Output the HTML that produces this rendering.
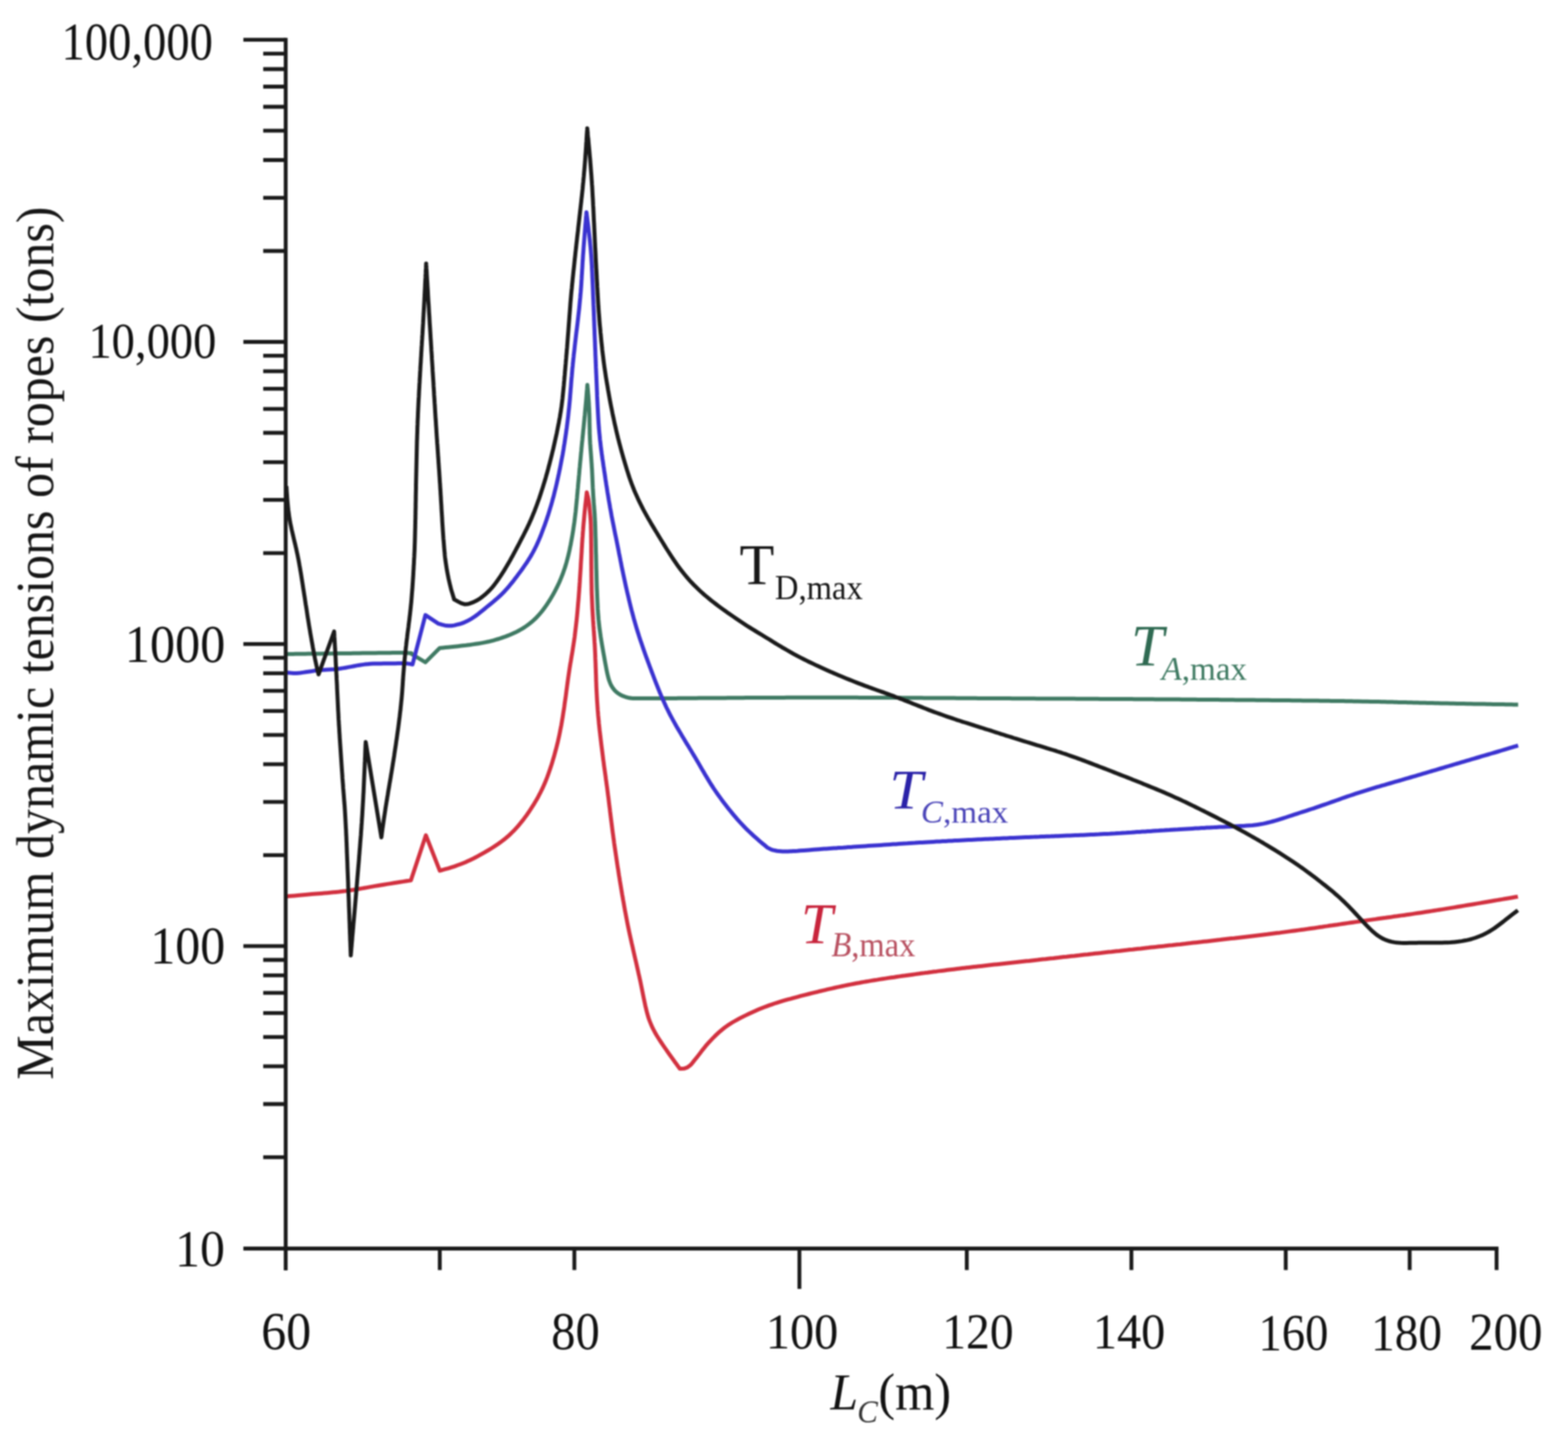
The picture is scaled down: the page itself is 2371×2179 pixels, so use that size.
<!DOCTYPE html>
<html><head><meta charset="utf-8"><title>Maximum dynamic tensions of ropes</title>
<style>html,body{margin:0;padding:0;background:#fff;} svg{display:block;filter:blur(1px);}</style></head>
<body>
<svg width="2371" height="2179" viewBox="0 0 2371 2179">
<rect width="2371" height="2179" fill="#fff"/>
<g>
<g fill="none" stroke-linejoin="round" stroke-linecap="butt">
<path d="M433.0,989.0 L435.1,989.0 L437.6,988.9 L440.3,988.9 L443.3,988.9 L446.5,988.8 L450.0,988.8 L453.7,988.8 L457.7,988.7 L461.8,988.7 L466.2,988.6 L470.9,988.6 L475.7,988.5 L480.7,988.4 L485.6,988.4 L490.6,988.3 L495.5,988.3 L500.4,988.2 L505.1,988.2 L509.6,988.1 L514.0,988.1 L518.1,988.0 L522.1,988.0 L526.0,987.9 L530.1,987.9 L534.4,987.8 L538.9,987.8 L543.5,987.7 L548.3,987.6 L553.2,987.6 L558.1,987.5 L563.0,987.4 L567.9,987.4 L572.7,987.3 L577.4,987.3 L581.9,987.2 L586.1,987.2 L589.9,987.2 L593.4,987.1 L596.6,987.1 L599.8,987.1 L602.6,987.1 L605.2,987.1 L607.6,987.1 L609.8,987.1 L622.0,987.8 L621.5,988.3 L621.6,988.5 L643.3,1001.5 L664.9,979.9 L667.2,979.7 L670.2,979.4 L673.7,979.1 L677.7,978.7 L682.3,978.3 L687.3,977.8 L692.6,977.2 L697.5,976.6 L702.3,976.1 L706.8,975.5 L710.9,975.0 L715.0,974.4 L718.9,973.8 L722.9,973.2 L726.7,972.6 L730.6,971.9 L734.5,971.1 L738.4,970.3 L742.3,969.3 L746.3,968.3 L750.2,967.2 L754.3,966.0 L758.4,964.6 L762.6,963.2 L766.8,961.6 L770.9,960.0 L774.9,958.3 L778.7,956.6 L782.2,954.8 L785.6,953.0 L788.8,951.2 L793.0,948.6 L796.9,945.9 L800.6,943.1 L804.0,940.4 L807.0,937.8 L809.7,935.3 L812.0,932.9 L814.9,929.8 L817.4,926.9 L819.6,924.3 L822.7,920.1 L824.6,917.5 L826.7,914.5 L828.9,911.2 L831.3,907.5 L833.7,903.4 L836.2,899.2 L838.6,894.9 L840.8,890.6 L842.4,887.5 L843.9,884.4 L845.4,881.2 L846.8,878.0 L848.2,874.7 L849.6,871.2 L851.1,867.4 L852.5,863.3 L854.0,859.0 L855.4,854.5 L856.6,850.5 L857.5,847.0 L858.5,843.4 L859.4,839.7 L860.3,835.9 L861.2,831.9 L862.0,827.8 L862.9,823.6 L863.7,819.2 L864.5,814.9 L865.3,810.5 L866.0,806.2 L866.7,801.9 L867.3,797.8 L867.9,793.7 L868.5,789.7 L869.0,785.6 L869.5,781.5 L870.0,777.4 L870.5,773.3 L870.9,769.1 L871.3,765.0 L871.7,760.9 L872.1,756.8 L872.5,752.8 L872.8,748.8 L873.2,744.9 L873.5,741.0 L873.9,737.2 L874.2,733.1 L874.6,728.9 L875.0,724.9 L875.3,721.0 L875.7,717.3 L876.0,713.5 L876.3,709.8 L876.7,706.1 L877.0,702.3 L877.4,698.3 L877.8,694.1 L878.2,689.8 L878.6,685.3 L879.0,681.6 L879.3,677.7 L879.7,673.7 L880.1,669.5 L880.6,665.1 L881.0,660.7 L881.5,656.1 L881.9,651.5 L882.4,647.0 L882.8,642.7 L883.2,638.5 L883.6,634.6 L883.9,630.9 L884.3,627.3 L884.6,623.9 L884.9,620.5 L885.4,615.1 L885.9,609.7 L886.4,604.2 L886.8,599.2 L887.1,595.1 L887.4,591.5 L887.7,588.3 L887.9,585.5 L888.1,583.1 L888.2,582.1 L888.4,584.4 L888.7,587.2 L889.0,590.6 L889.3,594.5 L889.7,598.8 L890.0,603.7 L890.4,608.9 L890.6,613.6 L890.9,618.2 L891.0,622.3 L891.2,626.2 L891.3,630.1 L891.4,634.1 L891.4,638.2 L891.5,642.4 L891.6,646.6 L891.7,650.7 L891.7,654.8 L891.9,658.8 L892.0,662.6 L892.2,666.6 L892.4,670.7 L892.7,674.6 L892.9,678.3 L893.2,682.0 L893.5,685.8 L893.8,689.8 L894.1,694.0 L894.4,698.5 L894.7,702.7 L894.9,706.4 L895.2,710.4 L895.4,714.6 L895.6,719.1 L895.8,723.7 L896.0,728.4 L896.2,733.1 L896.4,737.7 L896.7,742.1 L896.9,746.0 L897.1,749.6 L897.3,752.7 L897.6,756.3 L897.8,759.3 L898.0,761.3 L898.1,763.0 L898.3,765.4 L898.6,769.7 L899.2,777.2 L899.5,783.8 L899.7,786.7 L899.8,789.8 L900.0,792.9 L900.1,796.1 L900.2,799.5 L900.3,803.1 L900.4,807.0 L900.5,811.2 L900.7,815.6 L900.8,820.3 L900.9,825.1 L901.0,829.9 L901.1,834.8 L901.3,839.8 L901.4,844.7 L901.5,849.7 L901.6,854.6 L901.7,859.4 L901.9,864.2 L902.0,868.8 L902.1,873.2 L902.2,877.4 L902.3,881.3 L902.4,884.9 L902.5,888.2 L902.6,891.5 L902.8,894.6 L902.9,897.7 L903.1,902.8 L903.4,909.7 L903.7,915.8 L903.9,920.9 L904.2,925.0 L904.4,928.4 L904.7,931.4 L904.9,934.1 L905.1,936.7 L905.4,939.5 L905.7,942.4 L906.1,945.8 L906.5,949.7 L907.1,953.8 L907.7,958.1 L908.3,962.5 L909.0,966.9 L909.7,971.3 L910.4,975.5 L911.1,979.6 L911.8,983.6 L912.5,987.5 L913.2,991.3 L913.9,995.1 L914.6,999.2 L915.5,1004.0 L916.4,1008.8 L917.3,1013.7 L918.3,1018.3 L919.3,1022.6 L920.3,1026.5 L921.5,1030.0 L922.7,1033.1 L923.9,1035.9 L926.5,1040.2 L929.4,1043.9 L932.0,1046.4 L935.2,1048.8 L937.9,1050.5 L941.1,1052.1 L945.7,1053.8 L949.5,1054.9 L951.0,1055.2 L952.1,1055.4 L953.1,1055.5 L954.2,1055.7 L955.3,1055.8 L956.8,1055.9 L958.8,1056.0 L961.6,1056.1 L966.1,1056.1 L973.7,1056.1 L985.0,1056.1 L997.7,1056.0 L1005.1,1056.0 L1007.7,1056.0 L1010.2,1055.9 L1012.7,1055.9 L1015.1,1055.9 L1017.7,1055.9 L1020.2,1055.9 L1022.8,1055.9 L1025.4,1055.8 L1028.1,1055.8 L1030.9,1055.8 L1033.8,1055.8 L1036.8,1055.8 L1039.9,1055.8 L1043.0,1055.7 L1046.3,1055.7 L1049.6,1055.7 L1053.1,1055.7 L1056.6,1055.6 L1060.3,1055.6 L1064.0,1055.6 L1067.8,1055.6 L1071.7,1055.5 L1075.6,1055.5 L1079.6,1055.5 L1083.7,1055.4 L1087.9,1055.4 L1092.1,1055.4 L1096.4,1055.4 L1100.8,1055.3 L1105.2,1055.3 L1109.7,1055.3 L1114.3,1055.2 L1118.9,1055.2 L1123.5,1055.2 L1128.1,1055.1 L1132.8,1055.1 L1137.5,1055.1 L1142.2,1055.1 L1147.0,1055.0 L1151.7,1055.0 L1156.5,1055.0 L1161.3,1055.0 L1166.1,1054.9 L1170.8,1054.9 L1175.6,1054.9 L1180.4,1054.9 L1185.2,1054.9 L1190.0,1054.8 L1194.7,1054.8 L1199.4,1054.8 L1204.1,1054.8 L1208.8,1054.8 L1213.4,1054.8 L1218.0,1054.8 L1222.5,1054.8 L1227.0,1054.8 L1231.4,1054.8 L1235.7,1054.8 L1240.0,1054.8 L1244.0,1054.8 L1247.6,1054.8 L1251.2,1054.8 L1254.9,1054.8 L1258.5,1054.8 L1262.2,1054.8 L1265.8,1054.8 L1269.5,1054.8 L1273.2,1054.8 L1276.9,1054.8 L1280.6,1054.8 L1284.4,1054.8 L1288.2,1054.8 L1291.9,1054.8 L1295.8,1054.8 L1299.6,1054.9 L1303.5,1054.9 L1307.4,1054.9 L1311.3,1054.9 L1315.3,1054.9 L1319.3,1054.9 L1323.3,1055.0 L1327.3,1055.0 L1331.4,1055.0 L1335.4,1055.0 L1339.5,1055.0 L1343.6,1055.1 L1347.7,1055.1 L1351.8,1055.1 L1355.9,1055.1 L1360.1,1055.1 L1364.2,1055.2 L1368.3,1055.2 L1372.5,1055.2 L1376.6,1055.2 L1380.8,1055.3 L1385.0,1055.3 L1389.1,1055.3 L1393.3,1055.3 L1397.4,1055.4 L1401.6,1055.4 L1405.7,1055.4 L1409.9,1055.4 L1414.0,1055.5 L1418.2,1055.5 L1422.3,1055.5 L1426.5,1055.5 L1430.6,1055.6 L1434.7,1055.6 L1438.8,1055.6 L1442.9,1055.6 L1447.0,1055.7 L1451.1,1055.7 L1455.1,1055.7 L1459.2,1055.7 L1463.2,1055.8 L1467.2,1055.8 L1471.2,1055.8 L1475.2,1055.8 L1479.2,1055.9 L1483.1,1055.9 L1487.1,1055.9 L1491.0,1055.9 L1495.0,1056.0 L1498.9,1056.0 L1502.8,1056.0 L1506.7,1056.0 L1510.6,1056.0 L1514.5,1056.1 L1518.4,1056.1 L1522.5,1056.1 L1526.6,1056.1 L1530.8,1056.2 L1534.9,1056.2 L1539.1,1056.2 L1543.2,1056.2 L1547.3,1056.2 L1551.4,1056.3 L1555.6,1056.3 L1559.7,1056.3 L1563.8,1056.3 L1567.9,1056.4 L1572.0,1056.4 L1576.0,1056.4 L1580.1,1056.4 L1584.2,1056.4 L1588.2,1056.5 L1592.2,1056.5 L1596.3,1056.5 L1600.3,1056.5 L1604.3,1056.5 L1608.3,1056.6 L1612.3,1056.6 L1616.3,1056.6 L1620.3,1056.6 L1624.2,1056.6 L1628.2,1056.7 L1632.2,1056.7 L1636.1,1056.7 L1640.1,1056.7 L1644.1,1056.7 L1648.0,1056.8 L1652.0,1056.8 L1655.9,1056.8 L1659.9,1056.8 L1663.8,1056.9 L1667.8,1056.9 L1671.7,1056.9 L1675.7,1056.9 L1679.6,1056.9 L1683.6,1057.0 L1687.5,1057.0 L1691.5,1057.0 L1695.4,1057.0 L1699.4,1057.1 L1703.3,1057.1 L1707.3,1057.1 L1711.3,1057.1 L1715.2,1057.2 L1719.2,1057.2 L1723.2,1057.2 L1727.1,1057.2 L1731.1,1057.3 L1735.1,1057.3 L1739.1,1057.3 L1743.1,1057.3 L1747.0,1057.4 L1751.0,1057.4 L1755.0,1057.4 L1759.0,1057.5 L1763.0,1057.5 L1767.0,1057.5 L1771.0,1057.5 L1775.0,1057.6 L1779.0,1057.6 L1783.0,1057.6 L1786.9,1057.7 L1790.9,1057.7 L1795.0,1057.7 L1799.1,1057.8 L1803.2,1057.8 L1807.3,1057.8 L1811.5,1057.9 L1815.7,1057.9 L1820.0,1057.9 L1824.3,1058.0 L1828.6,1058.0 L1833.0,1058.0 L1837.4,1058.1 L1841.8,1058.1 L1846.2,1058.2 L1850.7,1058.2 L1855.2,1058.2 L1859.6,1058.3 L1864.2,1058.3 L1868.7,1058.4 L1873.2,1058.4 L1877.7,1058.4 L1882.3,1058.5 L1886.8,1058.5 L1891.4,1058.6 L1895.9,1058.6 L1900.5,1058.7 L1905.0,1058.7 L1909.5,1058.7 L1914.0,1058.8 L1918.5,1058.8 L1923.0,1058.9 L1927.5,1058.9 L1931.9,1059.0 L1936.4,1059.0 L1940.7,1059.1 L1945.1,1059.1 L1949.4,1059.1 L1953.7,1059.2 L1957.9,1059.2 L1962.0,1059.3 L1966.1,1059.3 L1970.2,1059.4 L1974.1,1059.4 L1978.0,1059.5 L1981.8,1059.5 L1985.5,1059.5 L1989.2,1059.6 L1992.8,1059.6 L1996.3,1059.7 L1999.7,1059.7 L2003.1,1059.8 L2006.4,1059.8 L2009.7,1059.8 L2012.9,1059.9 L2016.1,1059.9 L2019.2,1060.0 L2022.4,1060.0 L2025.5,1060.1 L2028.6,1060.1 L2031.6,1060.1 L2034.7,1060.2 L2037.8,1060.2 L2040.8,1060.3 L2043.8,1060.3 L2046.8,1060.4 L2053.9,1060.5 L2060.7,1060.7 L2067.3,1060.8 L2073.4,1060.9 L2079.1,1061.0 L2084.4,1061.1 L2089.3,1061.2 L2093.8,1061.3 L2097.9,1061.4 L2101.8,1061.5 L2105.4,1061.6 L2108.7,1061.7 L2111.9,1061.8 L2114.9,1061.9 L2117.8,1061.9 L2120.6,1062.0 L2123.3,1062.1 L2126.0,1062.1 L2128.8,1062.2 L2131.5,1062.3 L2134.4,1062.3 L2137.3,1062.4 L2140.4,1062.5 L2143.6,1062.6 L2147.0,1062.7 L2150.6,1062.7 L2154.6,1062.8 L2158.4,1062.9 L2162.1,1063.0 L2166.0,1063.1 L2170.1,1063.2 L2174.4,1063.3 L2178.9,1063.4 L2183.5,1063.5 L2188.3,1063.6 L2193.2,1063.7 L2198.1,1063.8 L2203.1,1063.9 L2208.1,1064.0 L2213.1,1064.1 L2218.5,1064.2 L2223.9,1064.3 L2229.3,1064.4 L2234.5,1064.5 L2239.5,1064.5 L2244.3,1064.6 L2248.9,1064.7 L2253.4,1064.8 L2257.7,1064.9 L2261.8,1064.9 L2265.7,1065.0 L2269.5,1065.1 L2273.2,1065.1 L2276.6,1065.2 L2279.9,1065.2 L2283.0,1065.3 L2285.9,1065.3 L2288.6,1065.4 L2291.2,1065.4 L2293.5,1065.5 L2295.6,1065.5" stroke="#3f7a63" stroke-width="6.0" />
<path d="M433.0,1355.5 L435.3,1355.3 L438.2,1355.0 L441.7,1354.7 L445.6,1354.4 L450.1,1354.0 L455.6,1353.5 L461.3,1353.0 L466.7,1352.5 L471.1,1352.1 L474.6,1351.8 L478.3,1351.5 L482.1,1351.2 L486.1,1350.9 L490.4,1350.5 L494.8,1350.2 L499.3,1349.8 L503.8,1349.3 L508.2,1348.9 L512.5,1348.5 L516.6,1348.0 L520.5,1347.6 L524.2,1347.1 L528.7,1346.5 L532.8,1345.8 L536.7,1345.2 L540.4,1344.6 L543.9,1344.0 L547.5,1343.4 L551.1,1342.8 L554.8,1342.1 L558.7,1341.4 L562.9,1340.6 L567.0,1339.9 L571.1,1339.2 L575.5,1338.5 L580.3,1337.7 L585.3,1336.9 L590.4,1336.1 L595.4,1335.3 L600.4,1334.5 L605.0,1333.8 L609.2,1333.1 L612.9,1332.5 L616.2,1332.0 L619.0,1331.6 L621.3,1331.2 L644.0,1263.0 L665.0,1316.6 L667.3,1316.0 L670.2,1315.2 L673.7,1314.2 L677.8,1313.1 L682.4,1311.7 L687.3,1310.1 L692.1,1308.3 L696.4,1306.7 L700.3,1305.2 L704.0,1303.7 L707.6,1302.1 L711.1,1300.5 L714.6,1298.8 L718.1,1297.0 L721.7,1295.1 L725.2,1293.2 L728.8,1291.2 L732.4,1289.2 L735.8,1287.2 L739.3,1285.1 L742.8,1283.0 L746.3,1280.8 L749.7,1278.5 L753.1,1276.2 L756.5,1273.8 L759.7,1271.4 L762.9,1269.0 L766.0,1266.4 L769.1,1263.7 L772.0,1261.0 L774.9,1258.2 L777.8,1255.3 L780.6,1252.2 L783.5,1249.0 L786.3,1245.6 L789.2,1242.0 L791.8,1238.8 L794.0,1235.8 L796.3,1232.7 L798.5,1229.5 L800.8,1226.2 L803.1,1222.7 L805.3,1219.2 L807.6,1215.6 L809.7,1212.0 L811.8,1208.4 L813.8,1204.9 L815.6,1201.4 L817.5,1197.8 L819.3,1194.1 L821.1,1190.4 L822.7,1186.7 L824.3,1183.0 L825.8,1179.3 L827.3,1175.5 L828.7,1171.7 L830.1,1167.8 L831.5,1163.7 L832.9,1159.5 L834.1,1155.9 L835.2,1152.3 L836.3,1148.5 L837.5,1144.7 L838.5,1140.9 L839.6,1136.9 L840.7,1132.9 L841.7,1128.9 L842.7,1124.9 L843.7,1120.9 L844.6,1116.9 L845.5,1112.9 L846.3,1109.0 L847.1,1104.9 L847.9,1100.8 L848.7,1096.8 L849.4,1092.7 L850.1,1088.6 L850.8,1084.6 L851.4,1080.5 L852.0,1076.5 L852.7,1072.4 L853.3,1068.4 L853.8,1064.3 L854.4,1060.2 L855.0,1056.2 L855.6,1052.1 L856.1,1048.1 L856.6,1044.0 L857.2,1039.9 L857.7,1035.9 L858.3,1031.8 L858.8,1027.7 L859.4,1023.6 L860.0,1019.5 L860.6,1015.5 L861.2,1011.4 L861.8,1007.5 L862.4,1003.7 L863.1,1000.0 L863.7,996.2 L864.3,992.5 L865.0,988.6 L865.7,984.6 L866.3,980.4 L867.0,976.0 L867.7,971.4 L868.4,966.7 L869.0,962.6 L869.4,959.1 L869.8,955.7 L870.2,952.4 L870.6,949.0 L871.0,945.7 L871.4,942.2 L871.8,938.6 L872.2,934.8 L872.6,930.8 L873.0,926.6 L873.4,922.1 L873.8,917.3 L874.2,912.3 L874.7,907.1 L875.1,901.9 L875.4,897.7 L875.7,894.3 L875.9,890.8 L876.2,887.3 L876.4,883.6 L876.7,879.7 L876.9,875.6 L877.2,871.4 L877.5,866.9 L877.8,862.4 L878.1,857.8 L878.3,853.2 L878.6,848.5 L878.9,843.9 L879.2,839.3 L879.5,834.7 L879.7,830.3 L880.0,826.0 L880.2,821.9 L880.5,818.0 L880.7,814.4 L881.0,811.0 L881.2,807.7 L881.4,804.6 L881.7,801.5 L882.0,797.0 L882.5,791.1 L883.1,785.0 L883.6,779.1 L884.1,773.8 L884.6,769.1 L885.0,764.9 L885.4,761.2 L885.8,757.8 L886.2,754.6 L886.5,751.7 L886.8,749.1 L887.1,746.7 L887.3,744.6 L887.7,746.6 L888.2,748.5 L888.8,750.6 L889.3,752.9 L889.9,755.6 L890.4,758.9 L891.1,764.0 L891.8,771.5 L892.6,779.7 L893.0,785.3 L893.2,788.1 L893.3,791.0 L893.5,793.8 L893.5,796.8 L893.6,800.0 L893.7,803.4 L893.8,807.1 L893.8,811.0 L893.9,815.2 L893.9,819.6 L894.0,824.1 L894.0,828.8 L894.0,833.4 L894.1,838.1 L894.1,842.9 L894.1,847.6 L894.1,852.3 L894.2,857.1 L894.2,861.7 L894.3,866.3 L894.3,870.8 L894.4,875.2 L894.4,879.3 L894.5,883.3 L894.6,887.1 L894.6,890.8 L894.7,894.4 L894.8,897.8 L895.0,902.0 L895.2,907.0 L895.4,911.9 L895.6,916.7 L895.8,921.3 L896.1,925.6 L896.3,929.8 L896.6,933.9 L896.8,937.7 L897.1,941.5 L897.3,945.2 L897.6,948.9 L897.8,952.5 L898.1,956.1 L898.3,959.8 L898.6,963.4 L898.8,967.1 L899.0,970.9 L899.3,974.8 L899.5,978.7 L899.7,982.8 L899.9,986.9 L900.1,991.1 L900.2,995.4 L900.4,999.6 L900.6,1003.9 L900.7,1008.1 L900.9,1012.4 L901.0,1016.6 L901.2,1020.9 L901.3,1025.1 L901.4,1029.3 L901.6,1033.4 L901.7,1037.4 L901.9,1041.4 L902.1,1045.3 L902.3,1049.1 L902.5,1052.8 L902.7,1056.5 L902.9,1060.2 L903.2,1064.3 L903.5,1068.8 L903.8,1073.3 L904.2,1077.6 L904.5,1081.8 L904.9,1085.8 L905.3,1089.7 L905.6,1093.6 L906.0,1097.3 L906.4,1101.1 L906.8,1104.9 L907.3,1108.8 L907.7,1112.7 L908.2,1116.7 L908.7,1120.8 L909.2,1125.1 L909.7,1129.1 L910.2,1133.0 L910.7,1136.9 L911.2,1140.9 L911.7,1144.9 L912.2,1149.0 L912.8,1153.2 L913.3,1157.3 L913.9,1161.5 L914.5,1165.7 L915.1,1169.9 L915.7,1174.1 L916.2,1178.2 L916.8,1182.3 L917.3,1186.3 L917.9,1190.2 L918.4,1194.1 L918.9,1198.0 L919.4,1202.1 L920.0,1206.3 L920.5,1210.6 L921.0,1214.8 L921.5,1219.0 L922.1,1223.1 L922.5,1227.1 L923.0,1231.1 L923.5,1235.1 L924.0,1239.0 L924.5,1243.0 L925.0,1246.9 L925.5,1250.9 L926.0,1254.8 L926.5,1258.8 L927.1,1262.9 L927.6,1266.9 L928.2,1271.0 L928.7,1275.1 L929.3,1279.2 L929.9,1283.2 L930.5,1287.3 L931.1,1291.4 L931.7,1295.4 L932.3,1299.5 L932.9,1303.5 L933.5,1307.6 L934.1,1311.6 L934.8,1315.6 L935.4,1319.7 L936.0,1323.7 L936.7,1327.7 L937.3,1331.8 L938.0,1335.9 L938.7,1340.0 L939.4,1344.2 L940.1,1348.5 L940.8,1352.8 L941.6,1357.1 L942.3,1361.3 L943.1,1365.5 L943.8,1369.7 L944.5,1373.8 L945.2,1377.7 L946.0,1381.6 L946.7,1385.4 L947.4,1389.1 L948.1,1392.8 L948.9,1396.8 L949.8,1401.3 L950.7,1405.7 L951.6,1410.0 L952.5,1414.2 L953.4,1418.2 L954.3,1422.1 L955.1,1425.9 L956.0,1429.6 L956.8,1433.2 L957.6,1436.8 L958.4,1440.3 L959.2,1443.9 L960.1,1447.9 L961.1,1452.1 L962.1,1456.4 L963.0,1460.5 L963.9,1464.5 L964.8,1468.4 L965.6,1472.2 L966.5,1475.9 L967.3,1479.6 L968.1,1483.2 L968.9,1487.0 L969.7,1491.0 L970.6,1495.4 L971.5,1499.9 L972.4,1504.4 L973.3,1508.9 L974.2,1513.2 L975.1,1517.3 L975.9,1521.2 L976.8,1524.8 L977.6,1528.3 L978.7,1532.4 L979.9,1536.8 L981.1,1540.5 L982.4,1544.0 L983.8,1547.5 L985.5,1551.5 L987.2,1555.2 L988.9,1558.4 L990.7,1561.7 L992.7,1565.2 L994.9,1568.8 L997.2,1572.4 L999.6,1576.0 L1002.0,1579.6 L1004.4,1583.1 L1006.7,1586.4 L1009.2,1590.0 L1011.8,1593.7 L1014.7,1597.8 L1017.6,1601.8 L1020.3,1605.6 L1022.7,1608.8 L1024.8,1611.7 L1026.5,1614.0 L1027.9,1615.9 L1030.6,1615.9 L1034.4,1615.8 L1039.3,1614.2 L1043.7,1610.9 L1045.7,1608.9 L1047.7,1606.4 L1050.0,1603.4 L1052.5,1600.4 L1055.2,1597.0 L1058.1,1593.2 L1061.1,1589.2 L1064.2,1585.3 L1066.6,1582.3 L1069.2,1579.3 L1071.9,1576.3 L1074.8,1573.2 L1077.8,1570.0 L1081.0,1566.8 L1084.2,1563.8 L1087.4,1560.8 L1090.6,1558.1 L1093.7,1555.5 L1096.8,1553.2 L1100.4,1550.6 L1104.0,1548.2 L1107.5,1546.0 L1111.1,1544.0 L1114.5,1542.1 L1118.0,1540.2 L1121.5,1538.4 L1125.0,1536.6 L1128.6,1534.9 L1132.4,1533.0 L1136.3,1531.2 L1140.2,1529.5 L1144.0,1527.8 L1147.9,1526.1 L1151.8,1524.5 L1155.6,1523.0 L1159.4,1521.6 L1163.3,1520.1 L1167.2,1518.8 L1170.9,1517.5 L1174.7,1516.3 L1178.5,1515.1 L1182.4,1513.9 L1186.6,1512.7 L1191.1,1511.4 L1195.3,1510.3 L1198.8,1509.3 L1202.6,1508.3 L1206.4,1507.3 L1210.4,1506.2 L1214.5,1505.2 L1218.7,1504.1 L1223.0,1503.0 L1227.3,1501.9 L1231.6,1500.9 L1236.0,1499.8 L1240.4,1498.7 L1244.0,1497.9 L1247.5,1497.1 L1251.1,1496.2 L1254.6,1495.4 L1258.2,1494.6 L1261.8,1493.8 L1265.6,1492.9 L1269.4,1492.1 L1273.4,1491.3 L1277.5,1490.4 L1281.7,1489.5 L1286.2,1488.6 L1290.8,1487.7 L1295.7,1486.8 L1299.1,1486.2 L1302.6,1485.5 L1306.2,1484.9 L1310.0,1484.2 L1313.9,1483.6 L1317.9,1482.9 L1321.9,1482.2 L1326.1,1481.6 L1330.3,1480.9 L1334.5,1480.2 L1338.8,1479.6 L1343.2,1478.9 L1347.5,1478.3 L1351.9,1477.7 L1356.1,1477.0 L1360.4,1476.4 L1364.5,1475.8 L1368.6,1475.3 L1372.5,1474.7 L1376.3,1474.2 L1380.0,1473.7 L1384.2,1473.1 L1388.1,1472.6 L1391.8,1472.0 L1395.4,1471.6 L1398.9,1471.1 L1402.3,1470.7 L1405.7,1470.2 L1409.1,1469.8 L1412.6,1469.3 L1416.2,1468.9 L1419.9,1468.4 L1423.8,1467.9 L1428.0,1467.4 L1432.4,1466.8 L1437.0,1466.3 L1442.0,1465.7 L1447.3,1465.0 L1451.7,1464.5 L1454.9,1464.1 L1458.2,1463.7 L1461.6,1463.3 L1465.1,1462.9 L1468.6,1462.5 L1472.2,1462.1 L1475.8,1461.7 L1479.6,1461.3 L1483.3,1460.9 L1487.2,1460.4 L1491.2,1460.0 L1495.2,1459.6 L1499.3,1459.1 L1503.6,1458.6 L1507.8,1458.2 L1512.2,1457.7 L1516.6,1457.2 L1521.0,1456.7 L1525.5,1456.2 L1529.9,1455.7 L1534.4,1455.3 L1538.9,1454.8 L1543.3,1454.3 L1547.7,1453.8 L1552.0,1453.3 L1556.3,1452.9 L1560.6,1452.4 L1564.8,1451.9 L1568.9,1451.5 L1572.9,1451.0 L1576.9,1450.6 L1580.9,1450.2 L1584.9,1449.7 L1588.8,1449.3 L1592.8,1448.9 L1596.7,1448.4 L1600.7,1448.0 L1604.7,1447.5 L1608.6,1447.1 L1612.6,1446.7 L1616.6,1446.2 L1620.5,1445.8 L1624.5,1445.4 L1628.5,1444.9 L1632.5,1444.5 L1636.5,1444.0 L1640.5,1443.6 L1644.5,1443.2 L1648.5,1442.7 L1652.5,1442.3 L1656.5,1441.8 L1660.5,1441.4 L1664.5,1441.0 L1668.5,1440.5 L1672.5,1440.1 L1676.6,1439.6 L1680.6,1439.2 L1684.6,1438.7 L1688.6,1438.3 L1692.6,1437.9 L1696.6,1437.4 L1700.6,1437.0 L1704.6,1436.6 L1708.6,1436.1 L1712.7,1435.7 L1716.7,1435.2 L1720.6,1434.8 L1724.6,1434.4 L1728.6,1433.9 L1732.6,1433.5 L1736.6,1433.1 L1740.6,1432.6 L1744.6,1432.2 L1748.6,1431.8 L1752.6,1431.3 L1756.6,1430.9 L1760.5,1430.5 L1764.5,1430.0 L1768.5,1429.6 L1772.5,1429.2 L1776.5,1428.7 L1780.5,1428.3 L1784.5,1427.9 L1788.5,1427.4 L1792.5,1427.0 L1796.5,1426.5 L1800.5,1426.1 L1804.5,1425.6 L1808.5,1425.2 L1812.6,1424.7 L1816.6,1424.3 L1820.6,1423.8 L1824.6,1423.4 L1828.7,1422.9 L1832.7,1422.5 L1836.8,1422.0 L1840.9,1421.5 L1845.1,1421.1 L1849.2,1420.6 L1853.5,1420.1 L1857.7,1419.6 L1861.9,1419.1 L1866.2,1418.7 L1870.4,1418.2 L1874.7,1417.7 L1878.9,1417.2 L1883.2,1416.7 L1887.4,1416.2 L1891.6,1415.7 L1895.8,1415.2 L1899.9,1414.7 L1904.0,1414.2 L1908.1,1413.7 L1912.1,1413.2 L1916.0,1412.8 L1919.9,1412.3 L1923.8,1411.8 L1927.6,1411.3 L1931.4,1410.8 L1935.2,1410.4 L1938.9,1409.9 L1942.6,1409.4 L1946.3,1408.9 L1949.9,1408.4 L1954.5,1407.8 L1958.9,1407.2 L1963.3,1406.6 L1967.6,1406.0 L1971.8,1405.5 L1976.0,1404.9 L1980.0,1404.3 L1984.1,1403.7 L1988.0,1403.2 L1991.9,1402.6 L1995.7,1402.0 L1999.6,1401.5 L2003.3,1400.9 L2007.1,1400.4 L2010.8,1399.8 L2014.6,1399.3 L2018.4,1398.7 L2022.2,1398.2 L2026.0,1397.6 L2029.9,1397.0 L2033.8,1396.5 L2037.8,1395.9 L2041.8,1395.3 L2045.9,1394.7 L2050.1,1394.1 L2053.9,1393.6 L2057.7,1393.0 L2061.4,1392.5 L2065.2,1392.0 L2068.9,1391.4 L2072.7,1390.9 L2076.4,1390.4 L2080.1,1389.9 L2083.9,1389.3 L2087.6,1388.8 L2091.4,1388.3 L2095.2,1387.8 L2099.0,1387.2 L2102.9,1386.7 L2106.8,1386.1 L2110.8,1385.6 L2114.7,1385.0 L2118.8,1384.4 L2122.8,1383.9 L2127.0,1383.3 L2131.1,1382.7 L2135.3,1382.1 L2139.6,1381.4 L2143.8,1380.8 L2148.1,1380.2 L2152.5,1379.5 L2156.8,1378.8 L2160.8,1378.2 L2164.5,1377.6 L2168.4,1377.0 L2172.4,1376.4 L2176.5,1375.7 L2180.8,1375.1 L2185.2,1374.4 L2189.7,1373.6 L2194.3,1372.9 L2199.1,1372.1 L2203.9,1371.3 L2208.8,1370.5 L2213.8,1369.6 L2218.7,1368.8 L2223.7,1368.0 L2228.5,1367.2 L2233.3,1366.4 L2237.9,1365.6 L2242.7,1364.8 L2247.3,1364.0 L2251.7,1363.2 L2256.0,1362.5 L2260.1,1361.8 L2264.0,1361.1 L2267.8,1360.5 L2271.5,1359.9 L2274.9,1359.3 L2278.2,1358.7 L2281.3,1358.2 L2284.3,1357.7 L2287.0,1357.2 L2289.6,1356.7 L2292.0,1356.3 L2294.2,1356.0 L2295.2,1355.8" stroke="#d2303f" stroke-width="6.0" />
<path d="M433.0,1017.0 L435.5,1017.2 L439.1,1017.6 L443.6,1017.9 L448.8,1017.9 L453.9,1017.5 L458.2,1016.9 L462.1,1016.3 L465.9,1015.8 L469.8,1015.2 L473.8,1014.6 L477.8,1014.1 L481.8,1013.6 L485.7,1013.2 L489.4,1013.0 L493.2,1012.7 L497.2,1012.5 L501.6,1012.2 L506.5,1011.9 L510.8,1011.4 L514.4,1011.0 L518.3,1010.4 L522.4,1009.7 L526.6,1008.9 L531.0,1008.1 L535.5,1007.2 L539.8,1006.4 L543.9,1005.7 L547.9,1005.1 L551.5,1004.6 L555.7,1004.2 L560.4,1003.8 L564.6,1003.6 L568.5,1003.5 L572.3,1003.4 L576.1,1003.4 L579.9,1003.3 L584.1,1003.3 L588.5,1003.3 L593.0,1003.2 L597.6,1003.2 L602.2,1003.1 L606.3,1003.1 L609.7,1003.1 L614.7,1003.2 L619.9,1003.9 L622.7,1004.6 L623.8,1004.8 L643.3,930.1 L662.8,943.1 L665.2,943.7 L668.5,944.7 L672.7,945.7 L677.6,946.3 L682.5,946.2 L686.9,945.6 L690.6,944.6 L694.3,943.8 L698.2,942.6 L702.2,941.1 L706.0,939.3 L709.7,937.4 L713.0,935.5 L716.7,933.1 L720.0,930.7 L723.2,928.3 L726.5,925.7 L730.1,922.8 L733.4,920.1 L736.2,917.8 L739.2,915.4 L742.3,912.9 L745.5,910.2 L748.8,907.4 L752.2,904.5 L755.5,901.5 L758.7,898.5 L761.3,895.8 L763.9,893.1 L766.5,890.2 L769.1,887.3 L771.6,884.2 L774.2,881.0 L776.8,877.8 L779.3,874.4 L781.9,871.1 L784.3,867.8 L786.6,864.7 L788.9,861.6 L791.1,858.5 L793.2,855.4 L795.4,852.3 L797.6,849.0 L799.7,845.6 L801.9,842.1 L804.1,838.4 L806.2,834.6 L808.1,831.0 L809.7,827.7 L811.4,824.3 L813.0,820.7 L814.6,817.1 L816.2,813.3 L817.8,809.5 L819.3,805.5 L820.8,801.5 L822.3,797.5 L823.8,793.6 L825.1,789.7 L826.5,785.8 L827.7,782.0 L829.0,778.2 L830.2,774.4 L831.3,770.7 L832.4,767.0 L833.5,763.3 L834.6,759.5 L835.6,755.7 L836.7,751.9 L837.7,747.9 L838.7,743.8 L839.8,739.6 L840.8,735.4 L841.7,731.6 L842.5,727.9 L843.4,724.0 L844.2,720.1 L845.1,716.1 L845.9,712.1 L846.8,708.0 L847.6,703.8 L848.4,699.6 L849.2,695.4 L850.0,691.2 L850.8,687.1 L851.5,682.9 L852.2,678.9 L852.8,674.8 L853.5,670.8 L854.1,666.8 L854.7,662.8 L855.3,658.8 L855.9,654.8 L856.4,650.7 L857.0,646.7 L857.5,642.7 L858.0,638.7 L858.5,634.7 L859.0,630.7 L859.4,626.7 L859.8,622.7 L860.3,618.7 L860.7,614.6 L861.1,610.4 L861.5,606.2 L861.9,601.9 L862.2,597.5 L862.6,593.1 L862.9,588.8 L863.3,584.5 L863.6,580.3 L863.9,576.3 L864.2,572.4 L864.6,568.6 L864.9,564.9 L865.2,561.4 L865.5,557.3 L866.0,553.1 L866.3,549.3 L866.7,545.8 L867.0,542.6 L867.4,539.3 L867.7,535.8 L868.2,532.0 L868.7,527.6 L869.2,522.7 L869.7,518.4 L870.1,515.1 L870.5,511.7 L870.9,508.2 L871.3,504.5 L871.8,500.7 L872.3,496.8 L872.8,492.7 L873.3,488.5 L873.8,484.1 L874.3,479.7 L874.8,475.2 L875.3,470.8 L875.8,466.4 L876.2,462.1 L876.6,457.9 L877.0,453.8 L877.4,449.8 L877.7,445.8 L878.1,441.8 L878.4,437.8 L878.7,433.7 L879.0,429.6 L879.2,425.5 L879.5,421.4 L879.7,417.2 L880.0,413.1 L880.2,409.1 L880.5,405.1 L880.7,401.1 L880.9,397.3 L881.2,393.6 L881.4,390.0 L881.6,386.4 L881.9,382.8 L882.2,378.8 L882.5,374.1 L882.9,369.1 L883.3,363.9 L883.7,358.7 L884.1,353.6 L884.5,348.8 L884.9,344.1 L885.2,339.8 L885.6,335.8 L885.9,332.1 L886.1,328.8 L886.4,325.8 L886.6,323.2 L886.8,321.0 L887.1,323.2 L887.4,325.8 L887.8,328.8 L888.2,332.1 L888.7,335.8 L889.2,339.8 L889.7,344.1 L890.2,348.8 L890.8,353.7 L891.4,358.9 L892.0,364.2 L892.5,369.5 L893.0,374.5 L893.4,379.3 L893.7,383.3 L894.0,386.7 L894.2,390.0 L894.4,393.2 L894.6,396.4 L894.8,399.6 L895.0,402.8 L895.1,406.2 L895.3,409.6 L895.5,413.2 L895.6,417.0 L895.8,421.0 L896.0,425.3 L896.2,430.0 L896.4,435.0 L896.6,440.2 L896.8,445.6 L897.0,451.0 L897.2,454.2 L897.3,457.4 L897.4,460.7 L897.6,464.1 L897.7,467.5 L897.9,471.2 L898.0,475.0 L898.2,479.0 L898.3,483.1 L898.5,487.3 L898.6,491.7 L898.8,496.1 L899.0,500.5 L899.1,504.9 L899.3,509.4 L899.5,513.8 L899.7,518.3 L899.8,522.7 L900.0,527.2 L900.2,531.5 L900.3,535.8 L900.5,540.0 L900.7,544.1 L900.8,548.0 L901.0,551.8 L901.1,555.4 L901.3,559.0 L901.4,562.5 L901.6,566.0 L901.8,570.7 L902.0,575.4 L902.2,580.2 L902.4,584.9 L902.6,589.5 L902.8,594.0 L902.9,598.4 L903.1,602.6 L903.3,606.7 L903.5,610.8 L903.7,614.8 L903.9,618.6 L904.1,622.5 L904.3,626.2 L904.5,629.8 L904.7,633.4 L904.9,636.8 L905.1,640.3 L905.4,643.7 L905.6,647.1 L905.9,650.5 L906.3,654.7 L906.8,659.5 L907.2,664.3 L907.8,669.0 L908.3,673.6 L908.8,678.0 L909.4,682.2 L909.9,686.2 L910.5,690.2 L911.0,694.0 L911.6,697.7 L912.1,701.4 L912.6,705.0 L913.2,708.6 L913.7,712.2 L914.3,715.9 L914.9,720.0 L915.5,724.4 L916.2,728.7 L916.8,732.9 L917.5,737.1 L918.1,741.1 L918.7,745.0 L919.4,748.9 L920.0,752.7 L920.6,756.5 L921.3,760.3 L922.0,764.1 L922.6,768.0 L923.4,772.0 L924.1,776.0 L924.8,780.1 L925.6,784.1 L926.4,788.2 L927.2,792.2 L928.0,796.2 L928.8,800.3 L929.6,804.3 L930.4,808.3 L931.3,812.4 L932.1,816.4 L932.9,820.4 L933.7,824.4 L934.5,828.4 L935.3,832.4 L936.0,836.3 L936.8,840.1 L937.6,844.0 L938.3,847.8 L939.1,851.6 L939.8,855.5 L940.6,859.5 L941.5,863.5 L942.3,867.5 L943.2,871.7 L944.1,875.8 L945.0,880.0 L945.8,883.8 L946.6,887.5 L947.5,891.4 L948.4,895.3 L949.3,899.2 L950.3,903.2 L951.2,907.3 L952.2,911.4 L953.2,915.5 L954.2,919.5 L955.2,923.5 L956.3,927.4 L957.3,931.3 L958.3,935.1 L959.4,938.8 L960.5,942.7 L961.7,946.8 L962.8,950.7 L964.0,954.5 L965.2,958.2 L966.3,961.9 L967.5,965.5 L968.7,969.1 L970.0,972.8 L971.3,976.6 L972.6,980.5 L974.0,984.5 L975.5,988.7 L977.0,992.9 L978.3,996.4 L979.6,1000.0 L981.0,1003.7 L982.4,1007.6 L983.9,1011.5 L985.4,1015.6 L987.0,1019.8 L988.6,1024.0 L990.2,1028.2 L991.8,1032.3 L993.4,1036.3 L994.9,1040.1 L996.4,1043.8 L997.8,1047.3 L999.2,1050.7 L1000.6,1053.9 L1001.9,1057.0 L1004.0,1061.6 L1005.9,1065.8 L1007.6,1069.5 L1009.3,1072.8 L1010.8,1075.9 L1012.3,1078.9 L1013.9,1082.0 L1015.6,1085.1 L1017.5,1088.6 L1019.6,1092.4 L1021.6,1096.0 L1023.4,1099.2 L1025.3,1102.4 L1027.3,1105.8 L1029.4,1109.3 L1031.5,1112.9 L1033.7,1116.5 L1035.9,1120.3 L1038.2,1124.1 L1040.6,1127.9 L1042.9,1131.7 L1045.2,1135.5 L1047.4,1139.2 L1049.6,1142.9 L1051.8,1146.5 L1053.8,1150.0 L1055.9,1153.5 L1057.9,1157.0 L1059.9,1160.5 L1061.9,1163.9 L1064.0,1167.4 L1066.0,1170.9 L1068.1,1174.4 L1070.2,1177.9 L1072.3,1181.4 L1074.5,1185.0 L1076.8,1188.5 L1079.1,1192.1 L1081.5,1195.6 L1083.8,1199.0 L1086.1,1202.3 L1088.5,1205.6 L1091.0,1209.0 L1093.5,1212.4 L1096.2,1215.8 L1098.9,1219.3 L1101.6,1222.8 L1104.3,1226.2 L1107.0,1229.5 L1109.7,1232.7 L1112.3,1235.8 L1114.8,1238.7 L1117.3,1241.5 L1119.8,1244.2 L1122.2,1246.8 L1125.1,1249.9 L1128.6,1253.5 L1132.4,1257.1 L1136.3,1260.8 L1140.0,1264.2 L1143.8,1267.6 L1147.2,1270.6 L1150.3,1273.2 L1153.1,1275.6 L1155.7,1277.7 L1158.0,1279.6 L1159.9,1281.2 L1160.7,1281.9 L1162.8,1282.9 L1165.2,1284.2 L1168.5,1285.4 L1175.1,1286.7 L1183.3,1287.4 L1185.8,1287.4 L1188.0,1287.4 L1190.0,1287.4 L1192.1,1287.4 L1194.2,1287.3 L1196.5,1287.3 L1199.1,1287.1 L1202.1,1286.9 L1205.7,1286.7 L1210.2,1286.3 L1215.9,1285.9 L1222.7,1285.4 L1230.3,1284.8 L1238.1,1284.2 L1243.4,1283.8 L1246.2,1283.6 L1249.1,1283.4 L1252.0,1283.2 L1255.0,1283.0 L1258.0,1282.8 L1261.2,1282.6 L1264.4,1282.4 L1267.8,1282.1 L1271.3,1281.9 L1274.9,1281.7 L1278.7,1281.4 L1282.5,1281.1 L1286.6,1280.9 L1290.7,1280.6 L1295.0,1280.3 L1299.4,1280.0 L1303.8,1279.7 L1308.4,1279.4 L1313.0,1279.1 L1317.7,1278.8 L1322.4,1278.5 L1327.2,1278.2 L1331.9,1277.9 L1336.6,1277.5 L1341.2,1277.2 L1345.8,1276.9 L1350.4,1276.6 L1354.8,1276.4 L1359.2,1276.1 L1363.5,1275.8 L1367.6,1275.5 L1371.7,1275.3 L1375.7,1275.0 L1379.6,1274.8 L1383.4,1274.6 L1387.2,1274.3 L1390.9,1274.1 L1394.5,1273.9 L1398.0,1273.7 L1402.1,1273.5 L1406.8,1273.2 L1411.5,1272.9 L1416.2,1272.6 L1420.9,1272.4 L1425.5,1272.1 L1430.2,1271.9 L1434.8,1271.6 L1439.3,1271.4 L1443.7,1271.1 L1448.1,1270.9 L1452.4,1270.7 L1456.5,1270.5 L1460.6,1270.3 L1464.6,1270.1 L1468.5,1269.9 L1472.3,1269.7 L1476.0,1269.5 L1479.7,1269.3 L1483.2,1269.2 L1486.8,1269.0 L1490.2,1268.8 L1493.7,1268.7 L1497.1,1268.5 L1500.5,1268.4 L1503.8,1268.2 L1507.2,1268.0 L1510.6,1267.9 L1514.0,1267.7 L1517.4,1267.6 L1522.4,1267.4 L1527.4,1267.1 L1532.3,1266.9 L1537.2,1266.7 L1541.9,1266.5 L1546.5,1266.3 L1551.0,1266.1 L1555.3,1265.9 L1559.5,1265.7 L1563.6,1265.6 L1567.5,1265.4 L1571.3,1265.3 L1575.1,1265.1 L1578.7,1265.0 L1582.3,1264.8 L1585.8,1264.7 L1589.3,1264.6 L1592.8,1264.4 L1596.3,1264.3 L1599.8,1264.2 L1604.5,1264.0 L1609.0,1263.8 L1613.5,1263.6 L1617.8,1263.5 L1621.9,1263.3 L1626.0,1263.1 L1630.0,1263.0 L1634.0,1262.8 L1637.9,1262.7 L1641.7,1262.5 L1645.6,1262.3 L1649.5,1262.1 L1653.4,1262.0 L1657.4,1261.8 L1661.5,1261.6 L1665.6,1261.3 L1669.7,1261.1 L1673.8,1260.9 L1677.9,1260.7 L1682.0,1260.4 L1686.1,1260.2 L1690.3,1259.9 L1694.4,1259.7 L1698.5,1259.4 L1702.7,1259.2 L1706.8,1258.9 L1710.9,1258.7 L1715.0,1258.4 L1719.2,1258.1 L1723.3,1257.9 L1727.4,1257.6 L1731.5,1257.4 L1735.5,1257.1 L1739.6,1256.9 L1743.7,1256.6 L1747.8,1256.3 L1751.9,1256.1 L1756.0,1255.8 L1760.1,1255.6 L1764.2,1255.3 L1768.3,1255.1 L1772.5,1254.8 L1776.6,1254.5 L1780.9,1254.3 L1785.2,1254.0 L1789.6,1253.7 L1794.1,1253.5 L1798.7,1253.2 L1803.2,1252.9 L1807.7,1252.6 L1812.2,1252.4 L1816.6,1252.1 L1820.8,1251.9 L1824.9,1251.6 L1828.7,1251.4 L1832.4,1251.2 L1835.9,1251.1 L1839.0,1250.9 L1844.5,1250.6 L1849.1,1250.4 L1853.2,1250.2 L1856.9,1250.0 L1860.3,1249.9 L1863.9,1249.7 L1867.7,1249.5 L1871.8,1249.3 L1876.0,1249.1 L1880.4,1248.9 L1884.9,1248.6 L1889.4,1248.2 L1893.8,1247.9 L1898.0,1247.4 L1901.9,1246.9 L1905.9,1246.3 L1909.9,1245.6 L1913.4,1244.8 L1916.9,1244.0 L1920.5,1243.1 L1924.7,1242.0 L1928.7,1240.9 L1932.2,1239.8 L1936.1,1238.6 L1940.1,1237.3 L1944.4,1236.0 L1948.8,1234.5 L1953.2,1233.1 L1957.5,1231.7 L1961.7,1230.3 L1965.6,1229.0 L1969.1,1227.9 L1972.4,1226.8 L1975.7,1225.8 L1979.1,1224.7 L1982.6,1223.5 L1986.4,1222.3 L1990.5,1220.9 L1994.9,1219.4 L1999.7,1217.7 L2002.9,1216.6 L2006.2,1215.5 L2009.7,1214.2 L2013.3,1212.9 L2017.1,1211.6 L2021.0,1210.2 L2025.0,1208.8 L2029.1,1207.3 L2033.2,1205.9 L2037.4,1204.4 L2041.7,1203.0 L2045.9,1201.6 L2050.0,1200.2 L2054.1,1198.9 L2058.1,1197.6 L2062.1,1196.3 L2066.1,1195.1 L2070.1,1193.8 L2074.1,1192.6 L2078.1,1191.4 L2082.1,1190.2 L2086.0,1189.1 L2089.9,1187.9 L2093.9,1186.8 L2097.8,1185.6 L2101.8,1184.5 L2105.7,1183.4 L2109.7,1182.2 L2113.6,1181.1 L2117.6,1180.0 L2121.4,1178.8 L2125.3,1177.7 L2129.1,1176.6 L2132.9,1175.5 L2136.7,1174.4 L2140.5,1173.3 L2144.3,1172.2 L2148.0,1171.1 L2151.8,1169.9 L2155.6,1168.8 L2159.5,1167.7 L2163.3,1166.5 L2167.1,1165.4 L2170.9,1164.3 L2174.8,1163.1 L2178.6,1162.0 L2182.5,1160.8 L2186.4,1159.7 L2190.4,1158.5 L2194.3,1157.3 L2198.2,1156.2 L2202.1,1155.0 L2206.1,1153.9 L2210.0,1152.7 L2213.8,1151.6 L2217.7,1150.4 L2221.5,1149.3 L2225.3,1148.2 L2229.0,1147.1 L2232.7,1146.0 L2236.2,1145.0 L2240.4,1143.7 L2245.0,1142.4 L2249.8,1141.0 L2254.8,1139.5 L2260.0,1138.0 L2265.1,1136.5 L2270.0,1135.0 L2274.6,1133.6 L2278.8,1132.4 L2282.7,1131.2 L2286.2,1130.2 L2289.4,1129.2 L2292.2,1128.4 L2294.6,1127.7 L2295.6,1127.4" stroke="#3a32d0" stroke-width="6.0" />
<path d="M433.0,735.0 L433.2,737.3 L433.4,740.2 L433.6,743.6 L433.9,747.5 L434.2,752.0 L434.6,756.9 L435.1,762.0 L435.5,766.7 L436.0,771.4 L436.6,775.7 L437.1,779.7 L437.7,783.9 L438.5,788.4 L439.3,792.7 L440.2,796.7 L441.0,800.6 L441.9,804.4 L442.8,808.2 L443.7,812.1 L444.5,815.6 L445.2,818.5 L445.8,821.1 L446.5,823.7 L447.1,826.5 L447.9,829.8 L448.8,834.1 L450.0,839.7 L451.4,846.7 L452.4,852.1 L452.9,855.1 L453.5,858.2 L454.0,861.4 L454.6,864.7 L455.2,868.2 L455.8,871.9 L456.4,876.0 L457.1,880.3 L457.8,884.8 L458.5,889.5 L459.3,894.2 L460.0,899.0 L460.8,903.8 L461.5,908.6 L462.2,913.4 L463.0,918.0 L463.7,922.5 L464.3,926.7 L464.9,930.7 L465.5,934.4 L466.1,937.9 L466.6,941.2 L467.1,944.4 L467.6,947.5 L468.4,952.1 L469.4,958.2 L470.5,964.2 L471.4,969.6 L472.3,974.4 L473.0,978.6 L473.7,982.2 L474.3,985.4 L474.8,988.2 L475.3,990.9 L475.8,993.5 L476.3,996.1 L476.9,998.8 L478.4,1006.0 L479.7,1011.9 L480.5,1015.1 L481.2,1017.7 L481.7,1019.8 L505.2,954.9 L505.3,957.1 L505.5,959.6 L505.6,962.4 L505.8,965.5 L506.0,969.0 L506.2,972.7 L506.4,976.7 L506.7,981.1 L506.9,985.6 L507.2,990.6 L507.5,995.8 L507.7,1001.1 L508.0,1006.3 L508.3,1011.4 L508.5,1016.2 L508.7,1019.6 L508.9,1023.0 L509.0,1026.4 L509.2,1029.9 L509.4,1033.4 L509.6,1037.0 L509.7,1040.8 L509.9,1044.6 L510.1,1048.6 L510.3,1052.6 L510.5,1056.8 L510.7,1060.9 L510.9,1065.2 L511.1,1069.5 L511.3,1073.9 L511.6,1078.4 L511.8,1082.9 L512.0,1087.4 L512.3,1091.8 L512.5,1096.3 L512.8,1100.0 L513.0,1103.7 L513.2,1107.6 L513.5,1111.5 L513.7,1115.6 L514.0,1119.8 L514.3,1124.1 L514.6,1128.5 L514.9,1133.0 L515.2,1137.5 L515.5,1142.0 L515.8,1146.5 L516.1,1151.0 L516.4,1155.5 L516.7,1159.9 L517.0,1164.2 L517.3,1168.4 L517.6,1172.5 L517.8,1176.4 L518.1,1180.3 L518.4,1184.1 L518.7,1187.8 L518.9,1191.4 L519.2,1194.8 L519.6,1199.8 L519.9,1203.5 L520.1,1206.4 L520.3,1208.7 L520.4,1210.6 L520.6,1212.3 L520.7,1214.1 L520.9,1216.1 L521.1,1218.5 L521.3,1221.8 L521.6,1226.4 L522.0,1233.2 L522.5,1242.3 L523.0,1252.1 L523.2,1254.8 L523.3,1257.5 L523.4,1260.1 L523.5,1262.8 L523.7,1265.6 L523.8,1268.6 L523.9,1271.8 L524.1,1275.4 L524.2,1279.2 L524.4,1283.2 L524.5,1287.5 L524.7,1291.9 L524.9,1296.5 L525.1,1301.1 L525.3,1305.8 L525.4,1310.5 L525.6,1315.3 L525.8,1320.2 L526.0,1325.1 L526.2,1330.0 L526.4,1334.9 L526.5,1339.9 L526.7,1344.8 L526.9,1349.8 L527.1,1354.7 L527.3,1359.7 L527.5,1364.6 L527.6,1369.5 L527.8,1374.3 L528.0,1379.1 L528.2,1383.8 L528.3,1388.5 L528.5,1393.2 L528.7,1397.7 L528.8,1402.2 L529.0,1406.5 L529.1,1410.6 L529.3,1414.6 L529.4,1418.2 L529.5,1421.6 L529.7,1425.0 L529.8,1428.1 L529.9,1431.2 L530.0,1434.0 L530.1,1436.7 L530.2,1439.2 L530.3,1441.6 L530.4,1443.8 L530.4,1444.8 L530.6,1442.7 L530.8,1440.5 L531.0,1438.1 L531.2,1435.6 L531.4,1432.9 L531.7,1430.1 L531.9,1427.1 L532.2,1424.0 L532.5,1420.8 L532.7,1417.5 L533.0,1414.0 L533.4,1410.2 L533.7,1406.2 L534.1,1402.1 L534.4,1397.9 L534.8,1393.6 L535.2,1389.2 L535.6,1384.7 L536.0,1380.2 L536.4,1375.6 L536.8,1371.0 L537.2,1366.3 L537.6,1361.6 L538.0,1356.8 L538.4,1352.1 L538.8,1347.3 L539.2,1342.5 L539.6,1337.7 L540.0,1332.9 L540.4,1328.1 L540.8,1323.3 L541.2,1318.5 L541.6,1313.8 L542.0,1309.0 L542.4,1304.4 L542.8,1299.7 L543.1,1295.1 L543.5,1290.6 L543.8,1286.2 L544.2,1281.8 L544.5,1277.6 L544.8,1273.6 L545.1,1269.8 L545.4,1266.2 L545.7,1262.7 L545.9,1259.4 L546.1,1256.1 L546.4,1252.9 L546.6,1248.9 L547.0,1243.9 L547.3,1238.6 L547.7,1233.2 L548.0,1227.8 L548.3,1222.5 L548.6,1217.4 L548.9,1212.4 L549.2,1207.4 L549.4,1202.6 L549.7,1197.8 L549.9,1193.1 L550.1,1188.4 L550.3,1183.8 L550.5,1179.3 L550.7,1174.9 L550.9,1170.5 L551.1,1166.2 L551.3,1162.1 L551.5,1158.0 L551.6,1154.2 L551.8,1150.7 L551.9,1147.3 L552.1,1144.1 L552.2,1141.0 L552.3,1138.0 L552.4,1135.2 L552.5,1132.5 L552.6,1129.9 L552.7,1127.5 L552.8,1125.2 L553.0,1123.0 L553.0,1122.0 L576.7,1266.2 L577.0,1264.1 L577.3,1261.7 L577.6,1259.0 L578.0,1256.1 L578.4,1252.8 L579.0,1249.0 L579.7,1244.0 L580.6,1237.8 L581.6,1231.4 L582.6,1224.8 L583.0,1221.8 L583.5,1218.8 L584.0,1215.8 L584.5,1212.6 L585.1,1209.3 L585.6,1205.8 L586.3,1202.0 L586.9,1198.0 L587.6,1193.8 L588.4,1189.4 L589.1,1184.9 L589.9,1180.4 L590.7,1175.8 L591.4,1171.3 L592.2,1166.8 L592.9,1162.4 L593.6,1158.1 L594.2,1154.0 L594.9,1150.0 L595.5,1146.1 L596.1,1142.4 L596.6,1138.7 L597.2,1134.7 L597.9,1130.2 L598.6,1125.7 L599.2,1121.2 L599.9,1116.7 L600.5,1112.3 L601.1,1108.0 L601.7,1103.8 L602.3,1099.6 L602.8,1095.6 L603.3,1091.6 L603.8,1087.7 L604.3,1083.9 L604.7,1080.2 L605.1,1076.6 L605.6,1073.0 L605.9,1069.5 L606.3,1065.9 L606.7,1061.7 L607.2,1057.1 L607.6,1052.5 L608.0,1047.9 L608.3,1043.6 L608.6,1039.4 L608.9,1035.3 L609.1,1031.4 L609.4,1027.6 L609.6,1023.9 L609.9,1020.3 L610.2,1016.6 L610.5,1013.0 L610.8,1009.3 L611.1,1005.2 L611.5,1000.8 L611.9,996.4 L612.4,992.0 L612.8,987.8 L613.3,983.6 L613.7,979.5 L614.2,975.5 L614.6,971.6 L615.1,967.7 L615.6,963.8 L616.0,960.0 L616.5,956.0 L617.1,951.9 L617.6,948.1 L618.0,944.4 L618.5,940.7 L619.0,937.0 L619.4,933.1 L619.9,929.1 L620.4,924.7 L620.9,919.9 L621.4,914.9 L621.8,911.4 L622.1,907.8 L622.4,904.1 L622.7,900.2 L623.0,896.1 L623.4,891.9 L623.7,887.5 L624.0,883.0 L624.3,878.4 L624.6,873.7 L624.9,869.1 L625.1,864.6 L625.4,860.2 L625.6,855.9 L625.9,852.0 L626.0,848.4 L626.2,844.6 L626.4,841.7 L626.5,839.3 L626.6,837.2 L626.7,835.3 L626.8,833.3 L626.9,831.0 L627.0,828.1 L627.1,824.3 L627.3,819.0 L627.5,811.5 L627.7,802.5 L627.9,796.5 L627.9,793.8 L628.0,791.2 L628.0,788.6 L628.1,786.0 L628.2,783.3 L628.2,780.4 L628.3,777.4 L628.3,774.1 L628.4,770.6 L628.5,767.0 L628.5,763.2 L628.6,759.2 L628.7,755.2 L628.7,751.1 L628.8,746.9 L628.9,742.6 L629.0,738.4 L629.0,734.0 L629.1,729.7 L629.2,725.3 L629.3,720.8 L629.4,716.4 L629.5,711.9 L629.6,707.4 L629.7,702.9 L629.8,698.3 L629.9,693.8 L630.0,689.3 L630.1,684.8 L630.2,680.3 L630.3,675.8 L630.4,671.3 L630.5,666.9 L630.7,662.4 L630.8,658.1 L631.0,653.8 L631.1,649.6 L631.2,645.5 L631.4,641.4 L631.5,637.4 L631.7,633.5 L631.9,629.5 L632.0,625.5 L632.2,621.4 L632.4,617.2 L632.6,612.9 L632.8,608.6 L633.0,604.3 L633.3,599.9 L633.5,595.5 L633.7,591.0 L634.0,586.6 L634.2,582.1 L634.5,577.7 L634.7,573.2 L635.0,568.8 L635.2,564.3 L635.5,559.9 L635.7,555.5 L636.0,551.1 L636.3,546.7 L636.5,542.4 L636.8,538.1 L637.0,533.8 L637.3,529.5 L637.5,525.3 L637.8,521.2 L638.0,517.0 L638.3,513.0 L638.5,509.1 L638.8,505.2 L639.0,501.5 L639.2,497.9 L639.4,494.6 L639.6,491.4 L639.8,488.4 L639.9,485.6 L640.1,482.8 L640.2,480.1 L640.4,477.5 L640.5,474.7 L640.9,468.1 L641.3,460.9 L641.7,453.7 L642.0,447.0 L642.3,441.0 L642.6,435.6 L642.8,430.8 L643.0,426.5 L643.2,422.8 L643.4,419.4 L643.5,416.2 L643.7,413.2 L643.8,410.4 L643.9,407.7 L644.1,405.2 L644.2,402.8 L644.3,400.5 L644.4,398.4 L644.5,400.5 L644.7,402.9 L644.8,405.4 L645.0,408.1 L645.2,411.0 L645.3,414.1 L645.5,417.3 L645.7,420.7 L645.9,424.3 L646.2,428.1 L646.4,432.2 L646.7,436.6 L647.0,441.2 L647.2,446.0 L647.5,450.9 L647.8,456.0 L648.2,461.2 L648.5,466.6 L648.8,472.3 L649.2,478.0 L649.5,483.6 L649.8,489.0 L650.1,493.2 L650.3,496.3 L650.5,499.5 L650.7,502.7 L650.9,506.1 L651.1,509.6 L651.3,513.3 L651.6,517.2 L651.8,521.2 L652.1,525.4 L652.3,529.7 L652.6,534.0 L652.9,538.4 L653.1,542.9 L653.4,547.4 L653.7,551.9 L654.0,556.4 L654.2,561.0 L654.5,565.5 L654.8,570.0 L655.1,574.5 L655.4,579.0 L655.6,583.5 L655.9,588.0 L656.2,592.4 L656.4,596.7 L656.7,601.0 L657.0,605.2 L657.2,609.2 L657.5,613.1 L657.7,616.8 L657.9,620.3 L658.1,623.7 L658.3,627.0 L658.5,630.2 L658.7,633.4 L659.0,636.6 L659.3,642.3 L659.7,647.9 L660.0,653.2 L660.3,658.1 L660.6,662.4 L660.9,666.3 L661.1,669.9 L661.4,673.2 L661.6,676.3 L661.8,679.3 L662.0,682.3 L662.2,685.3 L662.4,688.4 L662.6,691.6 L662.9,695.1 L663.1,698.9 L663.4,703.0 L663.7,707.6 L664.1,712.5 L664.4,717.6 L664.7,721.9 L664.9,725.3 L665.1,728.8 L665.4,732.3 L665.6,735.9 L665.8,739.6 L666.1,743.5 L666.3,747.6 L666.6,751.8 L666.8,756.1 L667.1,760.6 L667.4,765.0 L667.6,769.6 L667.9,774.2 L668.2,778.7 L668.5,783.3 L668.7,787.9 L669.0,792.5 L669.3,797.0 L669.6,801.6 L669.9,806.0 L670.2,810.4 L670.5,814.7 L670.9,818.9 L671.2,822.9 L671.5,826.7 L671.8,830.2 L672.1,833.5 L672.4,836.5 L672.6,839.5 L672.9,842.3 L673.3,845.1 L673.6,847.8 L674.6,854.5 L675.7,861.6 L677.0,868.5 L678.2,874.6 L679.4,879.8 L680.4,884.1 L681.3,887.8 L682.1,891.1 L683.0,894.1 L683.9,896.9 L684.7,899.6 L685.4,902.0 L686.1,904.2 L686.6,906.3 L689.0,907.6 L692.6,909.6 L697.4,912.1 L702.4,913.7 L706.4,913.6 L709.4,912.8 L712.9,911.6 L716.2,910.4 L720.4,908.3 L723.2,906.7 L726.2,904.7 L729.5,902.3 L733.0,899.4 L736.8,896.0 L739.9,893.0 L742.2,890.6 L744.6,887.9 L747.0,885.0 L749.4,881.8 L751.9,878.4 L754.4,874.8 L756.9,871.1 L759.3,867.3 L761.7,863.6 L763.8,860.1 L765.8,856.7 L767.8,853.4 L769.8,850.0 L771.8,846.5 L773.7,842.9 L775.7,839.4 L777.6,835.8 L779.6,832.1 L781.5,828.5 L783.4,825.0 L785.3,821.4 L787.2,817.7 L789.0,814.2 L790.9,810.6 L792.7,807.0 L794.5,803.4 L796.3,799.8 L798.1,796.0 L800.0,792.1 L801.8,788.1 L803.6,784.0 L805.1,780.4 L806.5,776.9 L808.0,773.3 L809.4,769.7 L810.8,766.0 L812.2,762.2 L813.6,758.3 L815.1,754.2 L816.5,750.0 L817.9,745.7 L819.3,741.4 L820.7,737.1 L821.9,733.2 L823.0,729.6 L824.1,726.0 L825.2,722.3 L826.2,718.6 L827.3,714.8 L828.4,710.9 L829.4,706.9 L830.5,702.9 L831.5,698.9 L832.6,694.8 L833.6,690.8 L834.6,686.8 L835.5,682.9 L836.5,679.0 L837.4,675.0 L838.3,671.0 L839.2,666.9 L840.1,662.9 L841.0,658.8 L841.9,654.8 L842.7,650.7 L843.5,646.7 L844.3,642.6 L845.1,638.6 L845.8,634.5 L846.6,630.5 L847.2,626.5 L847.9,622.4 L848.5,618.4 L849.1,614.4 L849.6,610.3 L850.1,606.3 L850.6,602.3 L851.0,598.3 L851.4,594.3 L851.8,590.3 L852.2,586.3 L852.6,582.3 L852.9,578.3 L853.3,574.3 L853.6,570.2 L854.0,566.2 L854.3,562.1 L854.7,558.1 L855.0,554.1 L855.4,550.0 L855.7,545.9 L856.1,541.8 L856.4,537.6 L856.8,533.4 L857.1,529.3 L857.5,525.2 L857.8,521.1 L858.1,517.1 L858.4,513.1 L858.7,509.2 L859.0,505.4 L859.3,501.7 L859.6,497.6 L859.9,493.5 L860.2,489.5 L860.5,485.7 L860.8,482.1 L861.0,478.5 L861.3,474.9 L861.6,471.2 L861.9,467.3 L862.2,463.2 L862.5,458.8 L862.9,454.3 L863.3,449.5 L863.6,446.0 L863.9,442.7 L864.2,439.4 L864.6,436.1 L864.9,432.8 L865.2,429.4 L865.6,425.9 L865.9,422.3 L866.3,418.6 L866.7,414.7 L867.1,410.6 L867.6,406.3 L868.1,401.8 L868.6,396.9 L869.1,391.9 L869.7,386.8 L870.2,381.7 L870.7,377.5 L871.1,374.2 L871.4,370.9 L871.8,367.5 L872.2,364.0 L872.6,360.3 L873.0,356.5 L873.5,352.6 L874.0,348.4 L874.4,344.2 L874.9,339.9 L875.4,335.6 L875.9,331.2 L876.4,326.7 L876.9,322.3 L877.4,317.9 L877.9,313.5 L878.4,309.2 L878.9,304.9 L879.3,300.7 L879.8,296.6 L880.2,292.7 L880.6,288.9 L881.0,285.3 L881.3,281.8 L881.6,278.4 L882.0,275.0 L882.3,271.1 L882.8,266.2 L883.2,261.1 L883.7,255.9 L884.1,250.7 L884.5,245.5 L884.9,240.4 L885.2,235.4 L885.6,230.6 L885.9,226.0 L886.2,221.8 L886.4,217.8 L886.7,214.0 L886.9,210.4 L887.1,207.1 L887.3,204.0 L887.5,201.1 L887.7,198.4 L887.9,196.0 L888.0,193.9 L888.2,196.0 L888.4,198.4 L888.7,201.1 L888.9,204.0 L889.2,207.1 L889.6,210.4 L889.9,214.0 L890.2,217.8 L890.6,221.8 L891.0,226.1 L891.4,230.6 L891.8,235.4 L892.3,240.4 L892.7,245.5 L893.1,250.6 L893.5,255.9 L893.9,261.0 L894.3,266.1 L894.6,270.9 L894.9,275.0 L895.1,278.4 L895.4,281.9 L895.6,285.5 L895.8,289.3 L896.0,293.2 L896.2,297.3 L896.5,301.5 L896.7,305.9 L896.9,310.4 L897.2,314.9 L897.4,319.5 L897.6,324.0 L897.8,328.6 L898.0,333.1 L898.3,337.7 L898.5,342.1 L898.7,346.5 L898.9,350.8 L899.1,354.9 L899.3,358.8 L899.4,362.5 L899.6,366.0 L899.8,369.3 L899.9,372.6 L900.1,375.8 L900.3,379.0 L900.6,384.7 L900.8,390.3 L901.1,395.8 L901.4,400.9 L901.6,405.6 L901.9,409.8 L902.1,413.7 L902.3,417.3 L902.4,420.6 L902.6,423.8 L902.8,427.0 L903.0,430.1 L903.1,433.2 L903.3,436.4 L903.5,439.6 L903.7,444.3 L904.0,448.6 L904.2,452.4 L904.4,455.9 L904.6,459.3 L904.8,462.8 L905.1,466.4 L905.3,470.3 L905.7,474.7 L906.1,479.7 L906.3,483.1 L906.6,486.7 L906.9,490.4 L907.3,494.3 L907.7,498.3 L908.0,502.5 L908.5,506.9 L908.9,511.3 L909.3,515.9 L909.8,520.4 L910.3,524.8 L910.7,529.1 L911.2,533.3 L911.7,537.3 L912.2,541.2 L912.6,545.0 L913.2,549.4 L913.8,553.8 L914.4,558.1 L915.1,562.4 L915.7,566.6 L916.3,570.8 L917.0,574.8 L917.6,578.6 L918.3,582.4 L918.9,586.1 L919.5,589.8 L920.2,593.4 L920.8,597.0 L921.5,601.0 L922.3,605.4 L923.1,609.6 L923.9,613.7 L924.7,617.6 L925.5,621.5 L926.2,625.3 L927.0,629.0 L927.8,632.7 L928.6,636.5 L929.4,640.3 L930.3,644.2 L931.2,648.0 L932.0,651.8 L932.9,655.5 L933.8,659.2 L934.7,663.0 L935.7,666.8 L936.7,670.7 L937.8,674.8 L938.9,679.0 L940.1,683.4 L941.2,687.3 L942.2,690.9 L943.3,694.6 L944.4,698.4 L945.6,702.3 L946.8,706.3 L948.0,710.4 L949.3,714.4 L950.6,718.5 L951.9,722.5 L953.3,726.4 L954.6,730.1 L956.0,733.8 L957.4,737.4 L958.9,741.2 L960.7,745.4 L962.7,749.8 L964.7,754.2 L966.8,758.6 L968.9,762.8 L970.9,766.9 L972.8,770.6 L974.7,774.1 L976.5,777.4 L978.2,780.4 L979.7,783.2 L982.0,787.1 L984.3,791.1 L986.0,793.9 L987.5,796.4 L989.3,799.4 L991.3,802.7 L993.2,805.8 L995.2,809.1 L997.4,812.7 L999.7,816.5 L1002.2,820.5 L1004.7,824.6 L1007.2,828.7 L1009.3,832.0 L1011.5,835.4 L1013.7,838.9 L1016.0,842.4 L1018.4,846.0 L1020.8,849.5 L1023.2,853.0 L1025.6,856.4 L1028.0,859.6 L1030.5,862.9 L1033.1,866.2 L1035.7,869.4 L1038.3,872.5 L1040.9,875.5 L1043.5,878.4 L1046.3,881.4 L1049.1,884.3 L1052.0,887.2 L1054.8,889.9 L1057.6,892.6 L1060.6,895.4 L1063.6,898.1 L1066.7,900.7 L1069.8,903.3 L1072.9,905.9 L1075.9,908.4 L1079.2,910.9 L1082.6,913.5 L1086.0,916.1 L1089.4,918.6 L1092.8,921.1 L1096.2,923.5 L1099.5,925.9 L1102.9,928.2 L1106.3,930.6 L1109.6,932.9 L1113.0,935.2 L1116.4,937.5 L1119.7,939.8 L1123.1,942.0 L1126.4,944.2 L1129.8,946.4 L1133.3,948.6 L1136.9,950.9 L1140.6,953.1 L1144.2,955.4 L1147.9,957.6 L1151.5,959.8 L1155.1,962.0 L1158.7,964.2 L1162.2,966.3 L1165.6,968.4 L1168.9,970.5 L1172.3,972.6 L1175.8,974.7 L1179.4,976.8 L1183.1,979.1 L1186.7,981.2 L1189.9,983.0 L1193.2,984.9 L1196.6,986.8 L1200.1,988.8 L1203.8,990.8 L1207.6,992.8 L1211.5,994.8 L1215.7,997.0 L1220.0,999.1 L1223.2,1000.7 L1226.5,1002.3 L1229.9,1003.9 L1233.4,1005.6 L1237.1,1007.3 L1240.8,1009.0 L1244.6,1010.7 L1248.4,1012.4 L1252.3,1014.2 L1256.2,1015.9 L1260.0,1017.6 L1263.9,1019.2 L1267.8,1020.9 L1271.6,1022.5 L1275.7,1024.2 L1279.8,1025.9 L1284.0,1027.6 L1288.2,1029.3 L1292.4,1031.0 L1296.5,1032.6 L1300.6,1034.1 L1304.5,1035.6 L1308.3,1037.1 L1312.0,1038.4 L1315.4,1039.7 L1318.6,1040.8 L1322.5,1042.2 L1326.6,1043.7 L1330.2,1045.0 L1333.4,1046.1 L1336.5,1047.2 L1339.6,1048.4 L1343.0,1049.6 L1346.9,1051.0 L1350.7,1052.4 L1353.9,1053.7 L1357.4,1055.0 L1361.0,1056.4 L1364.8,1057.8 L1368.7,1059.4 L1372.7,1060.9 L1376.8,1062.5 L1380.8,1064.2 L1384.9,1065.8 L1388.9,1067.4 L1392.9,1068.9 L1396.8,1070.5 L1400.8,1072.0 L1404.7,1073.6 L1408.7,1075.1 L1412.6,1076.6 L1416.6,1078.0 L1420.5,1079.4 L1424.4,1080.8 L1428.3,1082.2 L1432.2,1083.6 L1436.1,1084.9 L1439.9,1086.2 L1443.8,1087.5 L1447.6,1088.8 L1451.5,1090.0 L1455.3,1091.3 L1459.2,1092.5 L1463.0,1093.7 L1466.8,1094.9 L1470.7,1096.1 L1474.5,1097.4 L1478.4,1098.6 L1482.2,1099.8 L1486.1,1101.0 L1490.0,1102.3 L1493.9,1103.5 L1497.8,1104.7 L1501.7,1106.0 L1505.7,1107.3 L1509.6,1108.5 L1513.5,1109.8 L1517.4,1111.0 L1521.3,1112.3 L1525.2,1113.5 L1529.1,1114.7 L1533.0,1116.0 L1536.9,1117.2 L1540.8,1118.4 L1544.7,1119.6 L1548.6,1120.8 L1552.5,1122.0 L1556.4,1123.2 L1560.3,1124.4 L1564.2,1125.6 L1568.1,1126.8 L1572.0,1127.9 L1576.0,1129.1 L1579.9,1130.3 L1583.8,1131.6 L1587.8,1132.8 L1591.7,1134.0 L1595.6,1135.2 L1599.5,1136.5 L1603.4,1137.7 L1607.2,1139.0 L1611.0,1140.2 L1614.7,1141.5 L1618.4,1142.8 L1622.1,1144.1 L1625.7,1145.3 L1629.2,1146.6 L1632.6,1147.8 L1636.0,1149.1 L1639.5,1150.4 L1643.0,1151.7 L1646.7,1153.1 L1650.6,1154.6 L1654.7,1156.2 L1659.1,1157.9 L1662.4,1159.2 L1665.9,1160.5 L1669.4,1161.9 L1673.1,1163.3 L1676.9,1164.8 L1680.8,1166.3 L1684.8,1167.9 L1688.9,1169.5 L1693.0,1171.1 L1697.1,1172.7 L1701.2,1174.3 L1705.3,1175.9 L1709.5,1177.5 L1713.5,1179.2 L1717.5,1180.7 L1721.4,1182.3 L1725.3,1183.8 L1729.1,1185.4 L1733.0,1187.0 L1736.9,1188.6 L1740.8,1190.2 L1744.7,1191.8 L1748.6,1193.4 L1752.4,1195.0 L1756.2,1196.6 L1759.9,1198.1 L1763.5,1199.7 L1767.1,1201.3 L1770.6,1202.8 L1774.0,1204.4 L1777.3,1205.9 L1781.0,1207.5 L1784.9,1209.3 L1788.7,1211.1 L1792.4,1212.8 L1795.9,1214.5 L1799.4,1216.2 L1802.8,1217.9 L1806.2,1219.5 L1809.6,1221.2 L1813.0,1222.9 L1816.4,1224.6 L1819.9,1226.3 L1823.5,1228.1 L1827.3,1230.0 L1831.2,1232.0 L1835.2,1234.0 L1839.2,1236.0 L1843.2,1238.1 L1847.2,1240.1 L1851.1,1242.1 L1854.9,1244.1 L1858.6,1246.0 L1862.1,1247.9 L1865.5,1249.7 L1868.7,1251.4 L1872.6,1253.5 L1876.0,1255.4 L1879.2,1257.1 L1882.1,1258.7 L1885.1,1260.4 L1888.2,1262.1 L1891.5,1264.0 L1895.2,1266.1 L1899.4,1268.5 L1902.3,1270.2 L1905.4,1272.0 L1908.7,1273.9 L1912.1,1276.0 L1915.7,1278.1 L1919.4,1280.3 L1923.1,1282.6 L1926.9,1284.9 L1930.7,1287.3 L1934.5,1289.6 L1938.2,1292.0 L1941.7,1294.2 L1945.1,1296.4 L1948.3,1298.5 L1951.3,1300.5 L1955.2,1303.1 L1958.8,1305.5 L1962.2,1307.8 L1965.5,1310.1 L1968.6,1312.3 L1971.6,1314.4 L1974.6,1316.6 L1977.6,1318.8 L1980.6,1321.0 L1983.7,1323.3 L1986.8,1325.7 L1990.1,1328.2 L1993.5,1330.8 L1996.9,1333.5 L2000.4,1336.3 L2003.9,1339.0 L2007.4,1341.8 L2010.8,1344.6 L2014.0,1347.2 L2017.1,1349.8 L2020.0,1352.4 L2022.8,1354.8 L2026.5,1358.1 L2030.1,1361.5 L2033.6,1364.8 L2036.7,1367.9 L2039.7,1370.9 L2042.3,1373.6 L2044.8,1376.2 L2047.1,1378.6 L2050.6,1382.4 L2053.3,1385.3 L2055.9,1388.1 L2059.0,1391.5 L2061.5,1394.2 L2064.3,1397.2 L2067.4,1400.3 L2070.4,1403.4 L2073.5,1406.4 L2076.3,1408.9 L2079.6,1411.8 L2083.1,1414.5 L2086.2,1416.6 L2089.8,1418.7 L2093.0,1420.3 L2096.4,1421.7 L2100.1,1423.0 L2104.5,1424.1 L2108.5,1424.9 L2111.5,1425.3 L2114.7,1425.6 L2118.2,1425.8 L2122.1,1425.9 L2126.5,1425.9 L2131.5,1425.8 L2137.1,1425.7 L2141.7,1425.7 L2145.2,1425.6 L2149.0,1425.6 L2153.0,1425.6 L2157.3,1425.5 L2161.8,1425.5 L2166.4,1425.5 L2171.2,1425.5 L2176.0,1425.5 L2180.6,1425.4 L2185.0,1425.3 L2189.1,1425.2 L2193.0,1425.0 L2196.6,1424.7 L2200.0,1424.4 L2205.5,1423.8 L2210.3,1423.1 L2214.6,1422.3 L2218.3,1421.6 L2221.7,1420.8 L2224.9,1420.0 L2228.0,1419.0 L2231.2,1418.0 L2235.2,1416.5 L2239.0,1415.0 L2242.7,1413.4 L2246.2,1411.7 L2249.6,1409.9 L2253.0,1407.9 L2256.4,1405.8 L2259.9,1403.5 L2263.3,1401.0 L2266.7,1398.5 L2270.0,1396.0 L2273.3,1393.5 L2276.8,1390.7 L2280.7,1387.6 L2284.8,1384.4 L2288.7,1381.4 L2291.9,1379.0 L2294.3,1377.2 L2295.2,1376.5" stroke="#1a1a1a" stroke-width="6.0" />
</g>
<g stroke="#1a1a1a" stroke-width="5.8" stroke-linecap="butt" fill="none">
<line x1="432.0" y1="57.3" x2="432.0" y2="1921" />
<line x1="368" y1="1888.0" x2="2265.9" y2="1888.0" />
<line x1="398" y1="1749.9" x2="432.0" y2="1749.9" />
<line x1="398" y1="1669.5" x2="432.0" y2="1669.5" />
<line x1="398" y1="1612.4" x2="432.0" y2="1612.4" />
<line x1="398" y1="1568.1" x2="432.0" y2="1568.1" />
<line x1="398" y1="1531.9" x2="432.0" y2="1531.9" />
<line x1="398" y1="1501.4" x2="432.0" y2="1501.4" />
<line x1="398" y1="1474.9" x2="432.0" y2="1474.9" />
<line x1="398" y1="1451.5" x2="432.0" y2="1451.5" />
<line x1="368" y1="1430.6" x2="432.0" y2="1430.6" />
<line x1="398" y1="1293.1" x2="432.0" y2="1293.1" />
<line x1="398" y1="1212.7" x2="432.0" y2="1212.7" />
<line x1="398" y1="1155.6" x2="432.0" y2="1155.6" />
<line x1="398" y1="1111.3" x2="432.0" y2="1111.3" />
<line x1="398" y1="1075.1" x2="432.0" y2="1075.1" />
<line x1="398" y1="1044.6" x2="432.0" y2="1044.6" />
<line x1="398" y1="1018.1" x2="432.0" y2="1018.1" />
<line x1="398" y1="994.7" x2="432.0" y2="994.7" />
<line x1="368" y1="973.8" x2="432.0" y2="973.8" />
<line x1="398" y1="836.3" x2="432.0" y2="836.3" />
<line x1="398" y1="755.9" x2="432.0" y2="755.9" />
<line x1="398" y1="698.8" x2="432.0" y2="698.8" />
<line x1="398" y1="654.5" x2="432.0" y2="654.5" />
<line x1="398" y1="618.3" x2="432.0" y2="618.3" />
<line x1="398" y1="587.8" x2="432.0" y2="587.8" />
<line x1="398" y1="561.3" x2="432.0" y2="561.3" />
<line x1="398" y1="537.9" x2="432.0" y2="537.9" />
<line x1="368" y1="517.0" x2="432.0" y2="517.0" />
<line x1="398" y1="379.5" x2="432.0" y2="379.5" />
<line x1="398" y1="299.1" x2="432.0" y2="299.1" />
<line x1="398" y1="242.0" x2="432.0" y2="242.0" />
<line x1="398" y1="197.7" x2="432.0" y2="197.7" />
<line x1="398" y1="161.5" x2="432.0" y2="161.5" />
<line x1="398" y1="131.0" x2="432.0" y2="131.0" />
<line x1="398" y1="104.5" x2="432.0" y2="104.5" />
<line x1="398" y1="81.1" x2="432.0" y2="81.1" />
<line x1="368" y1="60.2" x2="432.0" y2="60.2" />
<line x1="665" y1="1888.0" x2="665" y2="1920.5" />
<line x1="868.5" y1="1888.0" x2="868.5" y2="1920.5" />
<line x1="1208.8" y1="1888.0" x2="1208.8" y2="1949" />
<line x1="1461.9" y1="1888.0" x2="1461.9" y2="1920.5" />
<line x1="1710.8" y1="1888.0" x2="1710.8" y2="1920.5" />
<line x1="1944.2" y1="1888.0" x2="1944.2" y2="1920.5" />
<line x1="2131.6" y1="1888.0" x2="2131.6" y2="1920.5" />
<line x1="2263" y1="1888.0" x2="2263" y2="1920.5" />
</g>
<g font-family="'Liberation Serif', 'Times New Roman', serif" font-size="100">
<text transform="translate(92.96,90.30) scale(0.7048,0.7955)" fill="#111">100,000</text>
<text transform="translate(133.66,541.40) scale(0.7042,0.7576)" fill="#111">10,000</text>
<text transform="translate(188.87,1001.00) scale(0.7588,0.8136)" fill="#111">1000</text>
<text transform="translate(227.19,1456.60) scale(0.7562,0.8045)" fill="#111">100</text>
<text transform="translate(264.83,1914.00) scale(0.7517,0.7788)" fill="#111">10</text>
<text transform="translate(394.98,2040.00) scale(0.7554,0.8000)" fill="#111">60</text>
<text transform="translate(833.57,2040.00) scale(0.7337,0.8000)" fill="#111">80</text>
<text transform="translate(1157.92,2039.40) scale(0.7314,0.7591)" fill="#111">100</text>
<text transform="translate(1424.72,2039.40) scale(0.7197,0.7591)" fill="#111">120</text>
<text transform="translate(1652.42,2039.40) scale(0.7314,0.7591)" fill="#111">140</text>
<text transform="translate(1902.96,2040.80) scale(0.7044,0.7879)" fill="#111">160</text>
<text transform="translate(2073.27,2040.80) scale(0.7146,0.7879)" fill="#111">180</text>
<text transform="translate(2221.54,2040.80) scale(0.7394,0.8000)" fill="#111">200</text>
<text transform="translate(1118.18,882.70) scale(0.8614,0.8708)" fill="#161616">T</text>
<text transform="translate(1171.82,906.30) scale(0.4928,0.5354)" fill="#161616">D,max</text>
<text transform="translate(1710.16,1006.40) scale(0.8907,0.8923)" fill="#2f6a52" font-style="italic">T</text>
<text transform="translate(1756.50,1027.80) scale(0.5000,0.5061)" fill="#3f7a62"><tspan font-style="italic">A</tspan>,max</text>
<text transform="translate(1344.99,1222.80) scale(0.9019,0.8508)" fill="#2a22a8" font-style="italic">T</text>
<text transform="translate(1392.60,1244.00) scale(0.5004,0.4954)" fill="#4a44b8"><tspan font-style="italic">C</tspan>,max</text>
<text transform="translate(1211.17,1425.90) scale(0.8611,0.8754)" fill="#c8243c" font-style="italic">T</text>
<text transform="translate(1257.31,1446.20) scale(0.4914,0.5262)" fill="#b85060"><tspan font-style="italic">B</tspan>,max</text>
<text transform="translate(1255.75,2131.00) scale(0.7500,0.7800)" fill="#111" font-style="italic">L</text>
<text transform="translate(1296.19,2151.00) scale(0.4677,0.4769)" fill="#333" font-style="italic">C</text>
<text transform="translate(1327.94,2131.00) scale(0.7647,0.7826)" fill="#111">(m)</text>
<text transform="translate(79.5,1632.77) rotate(-90) scale(0.7560,0.8108)" fill="#161616">Maximum dynamic tensions of ropes (tons)</text>
</g>
</g>
</svg>
</body></html>
